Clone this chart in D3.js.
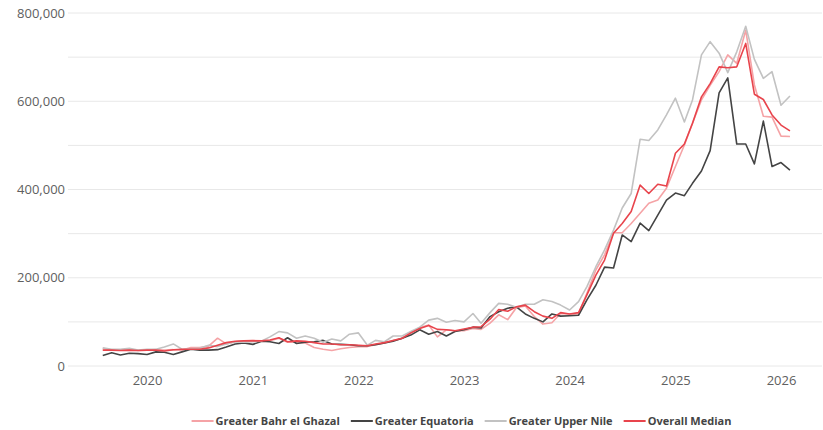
<!DOCTYPE html>
<html>
<head>
<meta charset="utf-8">
<script src="https://cdn.jsdelivr.net/npm/d3@7"></script>
<style>
  body { margin: 0; background: #fff; }
  svg text { font-family: "Open Sans", "Noto Sans", sans-serif; }
</style>
</head>
<body>
<div id="chart"></div>
<script>
// monthly observations, Aug 2019 - Feb 2026
var months = [
  "2019-08","2019-09","2019-10","2019-11","2019-12",
  "2020-01","2020-02","2020-03","2020-04","2020-05","2020-06","2020-07","2020-08","2020-09","2020-10","2020-11","2020-12",
  "2021-01","2021-02","2021-03","2021-04","2021-05","2021-06","2021-07","2021-08","2021-09","2021-10","2021-11","2021-12",
  "2022-01","2022-02","2022-03","2022-04","2022-05","2022-06","2022-07","2022-08","2022-09","2022-10","2022-11","2022-12",
  "2023-01","2023-02","2023-03","2023-04","2023-05","2023-06","2023-07","2023-08","2023-09","2023-10","2023-11","2023-12",
  "2024-01","2024-02","2024-03","2024-04","2024-05","2024-06","2024-07","2024-08","2024-09","2024-10","2024-11","2024-12",
  "2025-01","2025-02","2025-03","2025-04","2025-05","2025-06","2025-07","2025-08","2025-09","2025-10","2025-11","2025-12",
  "2026-01","2026-02"
];

// values in thousands
var bahrElGhazal = [
  40,36,37,38,35,
  36,37,36,37,36,42,42,45,63,50,55,57,
  58,57,57,63,54,54,52,42,38,35,39,42,
  44,44,48,52,58,62,74,87,93,66,82,80,
  80,85,83,97,116,105,132,136,112,95,98,119,
  118,118,165,218,252,302,302,323,346,369,376,403,
  452,501,550,603,636,667,705,686,761,637,566,564,
  521,520
];
var equatoria = [
  24,30,25,29,28,
  26,32,31,26,32,38,36,36,37,43,50,52,
  49,56,55,51,64,51,54,55,58,50,49,48,
  46,46,48,52,56,63,70,82,72,78,68,78,
  82,88,86,112,123,131,134,118,108,100,118,113,
  114,115,150,183,224,222,297,282,324,307,342,376,
  392,386,414,442,488,619,653,503,503,458,555,452,
  461,444
];
var upperNile = [
  41,38,38,40,36,
  38,38,43,50,38,39,40,47,44,50,55,54,
  55,57,66,78,75,63,68,63,54,61,57,72,
  75,47,58,55,68,68,78,88,104,108,99,103,
  100,119,97,121,142,140,133,140,140,150,146,138,
  127,146,180,225,263,308,358,391,514,511,535,569,
  607,553,603,705,735,709,665,712,770,695,652,667,
  591,612
];
var overallMedian = [
  36,36,35,36,35,
  36,36,34,37,38,38,38,41,47,53,56,57,
  57,57,59,64,55,57,56,53,50,50,48,48,
  47,46,50,53,58,63,75,85,92,83,82,80,
  84,88,89,106,128,124,134,138,123,113,108,121,
  118,121,161,206,240,301,323,350,410,391,412,408,
  482,503,550,610,640,678,676,678,731,616,604,569,
  546,533
];

var seriesNames = ["Greater Bahr el Ghazal", "Greater Equatoria", "Greater Upper Nile", "Overall Median"];
var seriesValues = [bahrElGhazal, equatoria, upperNile, overallMedian];
var seriesColors = ["#f5a3a6", "#444444", "#c2c2c2", "#e8444c"];

var yTicks = [0, 200000, 400000, 600000, 800000];
var yGrid = [0, 100000, 200000, 300000, 400000, 500000, 600000, 700000, 800000];
var yearTicks = [2020, 2021, 2022, 2023, 2024, 2025, 2026];

var svgWidth = 823, svgHeight = 430;
var svg = d3.select("#chart").append("svg")
  .attr("width", svgWidth)
  .attr("height", svgHeight);

var parseMonth = d3.timeParse("%Y-%m");
var dates = months.map(parseMonth);

var xScale = d3.scaleTime()
  .domain([new Date(2020, 0, 1), new Date(2026, 0, 1)])
  .range([147, 781]);
var yScale = d3.scaleLinear()
  .domain([0, 800000])
  .range([366, 13]);

var gridLeft = 68, gridRight = 822;

// gridlines
svg.append("g").selectAll("line")
  .data(yGrid)
  .enter()
  .append("line")
  .attr("x1", gridLeft)
  .attr("x2", gridRight)
  .attr("y1", d => yScale(d))
  .attr("y2", d => yScale(d))
  .attr("stroke", "#e8e8e8")
  .attr("stroke-width", 1);

// y axis
var yAxis = d3.axisLeft(yScale)
  .tickValues(yTicks)
  .tickSize(0)
  .tickPadding(0)
  .tickFormat(d3.format(","));
var yG = svg.append("g")
  .attr("transform", "translate(65,0)")
  .call(yAxis);
yG.select(".domain").remove();
yG.selectAll("text")
  .attr("fill", "#606060")
  .style("font-size", "13px");

// x axis
var xAxis = d3.axisBottom(xScale)
  .tickValues(yearTicks.map(y => new Date(y, 0, 1)))
  .tickSize(0)
  .tickPadding(0)
  .tickFormat(d3.timeFormat("%Y"));
var xG = svg.append("g")
  .attr("transform", "translate(0,376)")
  .call(xAxis);
xG.select(".domain").remove();
xG.selectAll("text")
  .attr("fill", "#606060")
  .style("font-size", "13px");

// lines
var line = d3.line()
  .x((d, i) => xScale(dates[i]))
  .y(d => yScale(d * 1000));

seriesValues.forEach(function(vals, k) {
  svg.append("path")
    .datum(vals)
    .attr("d", line)
    .attr("fill", "none")
    .attr("stroke", seriesColors[k])
    .attr("stroke-width", 1.6)
    .attr("stroke-linejoin", "round");
});

// legend, centred under the chart
var legend = svg.append("g");
var lx = 0;
seriesNames.forEach(function(name, k) {
  var item = legend.append("g").attr("transform", `translate(${lx},0)`);
  item.append("line")
    .attr("x1", 0).attr("x2", 22)
    .attr("y1", 0).attr("y2", 0)
    .attr("stroke", seriesColors[k])
    .attr("stroke-width", 2);
  var t = item.append("text")
    .attr("x", 24)
    .attr("y", 4)
    .attr("fill", "#444")
    .style("font-size", "11px")
    .style("font-weight", "bold")
    .text(name);
  lx += 24 + t.node().getComputedTextLength() + 11;
});
var legendWidth = lx - 11;
legend.attr("transform", `translate(${461.5 - legendWidth / 2},421)`);
</script>
</body>
</html>
